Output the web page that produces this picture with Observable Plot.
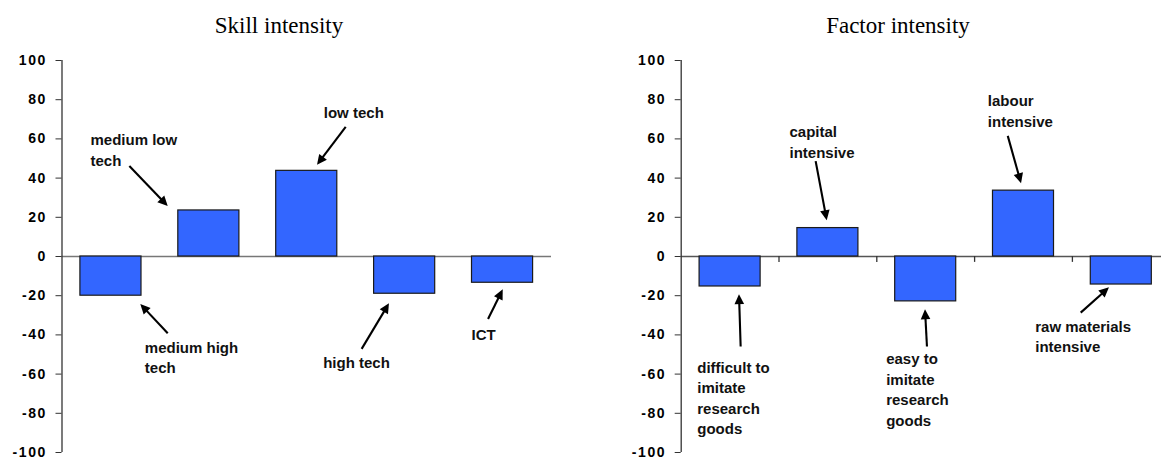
<!DOCTYPE html>
<html>
<head>
<meta charset="utf-8">
<script src="https://cdn.jsdelivr.net/npm/d3@7"></script>
<script src="https://cdn.jsdelivr.net/npm/@observablehq/plot@0.6"></script>
<style>
  html, body { margin: 0; padding: 0; background: #fff; }
  body { width: 1161px; height: 457px; overflow: hidden; position: relative; }
  .panel { position: absolute; top: 0; }
  .panel svg { max-width: none !important; display: block; }
  .title { position: absolute; top: 14px; width: 400px; text-align: center;
           font-family: "Liberation Serif", "Times New Roman", serif; font-size: 23px;
           line-height: 23px; color: #000; }
  g[aria-label="y-axis tick label"] { font-size: 14px !important; font-weight: bold !important; }
  g[aria-label="y-axis tick label"] text { letter-spacing: 1.6px; }
</style>
</head>
<body>
<div class="title" style="left:79px">Skill intensity</div>
<div class="title" style="left:698px">Factor intensity</div>
<div id="left" class="panel" style="left:0px; width:580px"></div>
<div id="right" class="panel" style="left:580px; width:600px"></div>
<script>
// ---- data ----
const yTicks = [100, 80, 60, 40, 20, 0, -20, -40, -60, -80, -100];

const skillCategories = ["medium high tech", "medium low tech", "low tech", "high tech", "ICT"];
const skillValues = [-20.0, 23.5, 43.7, -19.0, -13.4];
const skillLabels = ["medium high\ntech", "medium low\ntech", "low tech", "high tech", "ICT"];

const factorCategories = ["difficult to imitate research goods", "capital intensive",
  "easy to imitate research goods", "labour intensive", "raw materials intensive"];
const factorValues = [-15.3, 14.5, -22.9, 33.6, -14.3];
const factorLabels = ["difficult to\nimitate\nresearch\ngoods", "capital\nintensive",
  "easy to\nimitate\nresearch\ngoods", "labour\nintensive", "raw materials\nintensive"];

// annotation placement, in chart units (x: category slot, y: value)
const skillLabelPos = [[0.846, -51.0], [0.291, 55.0], [2.674, 73.9], [2.668, -53.4], [4.183, -39.1]];
const skillArrowPos = [[1.085, -39.4, 0.805, -24.5], [0.693, 45.9, 1.085, 25.5],
  [2.903, 65.9, 2.610, 46.5], [3.066, -47.4, 3.345, -24.1], [4.357, -32.1, 4.507, -17.0]];

const factorLabelPos = [[0.164, -71.7], [1.107, 59.1], [2.096, -67.3], [3.135, 74.9], [3.620, -40.3]];
const factorArrowPos = [[0.613, -46.2, 0.596, -19.5], [1.380, 48.4, 1.493, 18.3],
  [2.518, -46.2, 2.498, -27.2], [3.344, 61.3, 3.480, 37.1], [4.090, -28.9, 4.379, -16.0]];

// ---- drawing ----
const sans = "'Liberation Sans', Arial, Helvetica, sans-serif";
const barPad = 0.188;

// arrows with filled heads, positioned through the plot's x and y scales
function filledArrows(arrows) {
  return (index, scales) => {
    const g = d3.create("svg:g").attr("aria-label", "arrow");
    const L = 10, W = 4.8;
    for (const a of arrows) {
      const x1 = scales.x(a.x1), y1 = scales.y(a.y1), x2 = scales.x(a.x2), y2 = scales.y(a.y2);
      const ang = Math.atan2(y2 - y1, x2 - x1);
      const c = Math.cos(ang), s = Math.sin(ang);
      const bx = x2 - L * c, by = y2 - L * s;
      g.append("line")
        .attr("x1", x1).attr("y1", y1).attr("x2", bx + 2 * c).attr("y2", by + 2 * s)
        .attr("stroke", "#000").attr("stroke-width", 2.1);
      g.append("path")
        .attr("d", `M${x2},${y2}L${bx - W * s},${by + W * c}L${bx + W * s},${by - W * c}Z`)
        .attr("fill", "#000");
    }
    return g.node();
  };
}

function panel({categories, values, labels, labelPos, arrowPos, width, marginLeft, marginRight, catTicks, zeroColor}) {
  const bars = categories.map((c, i) => ({i, category: c, value: values[i]}));
  const notes = labels.map((t, i) => ({text: t, x: labelPos[i][0], y: labelPos[i][1]}));
  const arrows = arrowPos.map(a => ({x1: a[0], y1: a[1], x2: a[2], y2: a[3]}));
  const marks = [
    Plot.ruleY([0], {stroke: zeroColor, strokeWidth: 1.3}),
    Plot.rectY(bars, {x1: d => d.i + barPad, x2: d => d.i + 1 - barPad, y1: 0, y2: "value",
      fill: "#3366ff", stroke: "#1a1a1a", strokeWidth: 1.2}),
    Plot.ruleX([0], {y1: -100, y2: 100, stroke: "#333", strokeWidth: 1.3}),
    Plot.axisY(yTicks, {tickSize: 6, tickPadding: 9, fontSize: 14, fontWeight: "bold",
      fontFamily: sans, fill: "#000", stroke: "#333", tickFormat: d => String(d)}),
    Plot.text(notes, {x: "x", y: "y", text: "text", textAnchor: "start", lineAnchor: "middle",
      lineHeight: 1.37, fontSize: 15, fontWeight: "bold", fontFamily: sans, fill: "#111"}),
    filledArrows(arrows)
  ];
  if (catTicks) {
    marks.push(Plot.ruleX(d3.range(1, categories.length + 1), {y1: 0, y2: -3, stroke: "#333", strokeWidth: 1.3}));
  }
  return Plot.plot({
    width, height: 457,
    marginLeft, marginRight, marginTop: 60, marginBottom: 5,
    x: {domain: [0, categories.length], axis: null},
    y: {domain: [-100, 100], axis: null},
    style: {fontFamily: sans, background: "transparent", overflow: "visible", maxWidth: "none"},
    marks
  });
}

document.getElementById("left").append(panel({
  categories: skillCategories, values: skillValues, labels: skillLabels,
  labelPos: skillLabelPos, arrowPos: skillArrowPos,
  width: 580, marginLeft: 61.5, marginRight: 29, catTicks: false, zeroColor: "#777"
}));
document.getElementById("right").append(panel({
  categories: factorCategories, values: factorValues, labels: factorLabels,
  labelPos: factorLabelPos, arrowPos: factorArrowPos,
  width: 600, marginLeft: 100.7, marginRight: 10.3, catTicks: true, zeroColor: "#555"
}));
</script>
</body>
</html>
